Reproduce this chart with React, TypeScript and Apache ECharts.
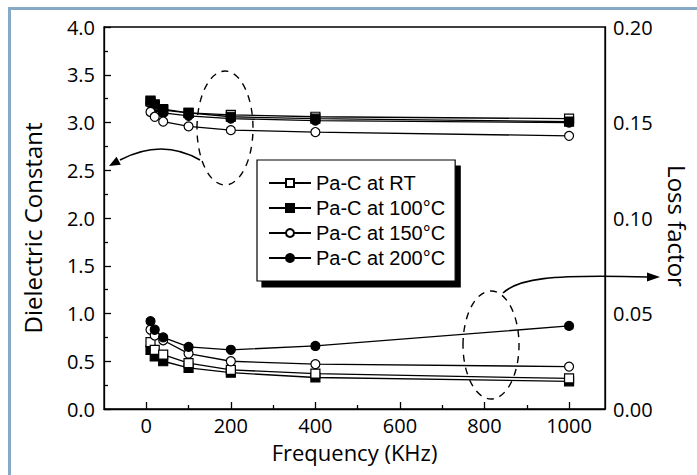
import React, { useEffect, useRef } from "react";
import * as echarts from "echarts";

// ---- data ----
const frequency = [10, 20, 40, 100, 200, 400, 1000];
const seriesNames = ["Pa-C at RT", "Pa-C at 100°C", "Pa-C at 150°C", "Pa-C at 200°C"];

const dielectricRT = [3.22, 3.18, 3.13, 3.1, 3.08, 3.06, 3.04];
const dielectric100 = [3.23, 3.19, 3.14, 3.1, 3.06, 3.04, 3.01];
const dielectric150 = [3.11, 3.06, 3.01, 2.96, 2.92, 2.9, 2.86];
const dielectric200 = [3.2, 3.15, 3.1, 3.07, 3.04, 3.02, 3.0];

const lossRT = [0.035, 0.031, 0.0285, 0.024, 0.0205, 0.0185, 0.016];
const loss100 = [0.031, 0.0275, 0.025, 0.0215, 0.019, 0.0165, 0.0145];
const loss150 = [0.0415, 0.0385, 0.036, 0.029, 0.025, 0.0235, 0.0222];
const loss200 = [0.046, 0.0415, 0.0375, 0.0325, 0.031, 0.033, 0.0435];

const xTickValues = [0, 200, 400, 600, 800, 1000];
const xMinorTickValues = [100, 300, 500, 700, 900];

const pairs = (ys: number[]) => frequency.map((f, i) => [f, ys[i]]);

const markerStyles = [
  { symbol: "rect", fill: "#fff" },
  { symbol: "rect", fill: "#000" },
  { symbol: "circle", fill: "#fff" },
  { symbol: "circle", fill: "#000" },
];

function arrowHead(tipX: number, tipY: number, fromX: number, fromY: number, len: number, half: number) {
  const dx = tipX - fromX;
  const dy = tipY - fromY;
  const d = Math.hypot(dx, dy) || 1;
  const ux = dx / d;
  const uy = dy / d;
  const bx = tipX - ux * len;
  const by = tipY - uy * len;
  return [
    [tipX, tipY],
    [bx - uy * half, by + ux * half],
    [bx + uy * half, by - ux * half],
  ];
}

export default function App() {
  const ref = useRef<HTMLDivElement>(null);

  useEffect(() => {
    if (!ref.current) return;
    const chart = echarts.init(ref.current, null, { renderer: "svg" });

    const tickFont = { fontFamily: "Open Sans", fontSize: 20, color: "#000" };
    const nameFont = { fontFamily: "Open Sans", fontSize: 24, color: "#000" };

    const mkSeries = (idx: number, data: number[], yAxisIndex: number, z: number) => ({
      type: "line",
      name: seriesNames[idx],
      xAxisIndex: 0,
      yAxisIndex,
      data: pairs(data),
      symbol: markerStyles[idx].symbol,
      symbolSize: 9,
      z,
      lineStyle: { color: "#000", width: 1.3 },
      itemStyle: { color: markerStyles[idx].fill, borderColor: "#000", borderWidth: 1.2 },
      emphasis: { disabled: true },
    });

    const upperHead = arrowHead(109, 166, 122, 159, 11, 4.5);
    const lowerHead = arrowHead(660, 277, 646, 277, 13, 4.5);

    chart.setOption({
      animation: false,
      backgroundColor: "#fff",
      grid: { left: 104, top: 27, right: 83, bottom: 66, show: true, borderColor: "#000", borderWidth: 1.3, backgroundColor: "transparent" },
      legend: {
        orient: "vertical",
        left: 257,
        top: 160,
        data: seriesNames,
        selectedMode: false,
        itemWidth: 42,
        itemHeight: 10,
        itemGap: 5,
        padding: [13, 10, 13, 11],
        borderColor: "#000",
        borderWidth: 1.2,
        backgroundColor: "#fff",
        shadowColor: "#000",
        shadowBlur: 0,
        shadowOffsetX: 5,
        shadowOffsetY: 6,
        textStyle: { fontFamily: "Liberation Sans", fontSize: 20, color: "#000" },
      },
      xAxis: [
        {
          type: "value",
          min: -100,
          max: 1085,
          position: "bottom",
          name: "Frequency (KHz)",
          nameLocation: "middle",
          nameGap: 32,
          nameTextStyle: { ...nameFont, fontSize: 22 },
          axisLine: { show: true, onZero: false, lineStyle: { color: "#000", width: 1.3 } },
          axisTick: { show: true, inside: true, length: 7, customValues: xTickValues, lineStyle: { color: "#000", width: 1.3 } },
          axisLabel: { ...tickFont, margin: 6, customValues: xTickValues, formatter: (v: number) => String(v) },
          splitLine: { show: false },
        },
        {
          type: "value",
          min: -100,
          max: 1085,
          position: "bottom",
          axisLine: { show: false, onZero: false },
          axisTick: { show: true, inside: true, length: 4, customValues: xMinorTickValues, lineStyle: { color: "#000", width: 1.3 } },
          axisLabel: { show: false },
          splitLine: { show: false },
        },
      ],
      yAxis: [
        {
          type: "value",
          min: 0,
          max: 4,
          interval: 0.5,
          position: "left",
          name: "Dielectric Constant",
          nameLocation: "middle",
          nameRotate: 90,
          nameGap: 60,
          nameTextStyle: { ...nameFont, padding: [0, 20, 0, 0] },
          axisLine: { show: true, onZero: false, lineStyle: { color: "#000", width: 1.3 } },
          axisTick: { show: true, inside: true, length: 7, lineStyle: { color: "#000", width: 1.3 } },
          minorTick: { show: true, splitNumber: 2, length: 4, lineStyle: { color: "#000", width: 1.3 } },
          axisLabel: { ...tickFont, margin: 9, formatter: (v: number) => v.toFixed(1) },
          splitLine: { show: false },
        },
        {
          type: "value",
          min: 0,
          max: 0.2,
          interval: 0.05,
          position: "right",
          name: "Loss factor",
          nameLocation: "middle",
          nameRotate: -90,
          nameGap: 60,
          nameTextStyle: { ...nameFont, padding: [0, 0, 0, 16] },
          axisLine: { show: true, onZero: false, lineStyle: { color: "#000", width: 1.3 } },
          axisTick: { show: false },
          axisLabel: { ...tickFont, margin: 8, formatter: (v: number) => v.toFixed(2) },
          splitLine: { show: false },
        },
      ],
      series: [
        mkSeries(3, dielectric200, 0, 2),
        mkSeries(0, dielectricRT, 0, 3),
        mkSeries(1, dielectric100, 0, 4),
        mkSeries(2, dielectric150, 0, 5),
        mkSeries(1, loss100, 1, 3),
        mkSeries(0, lossRT, 1, 4),
        mkSeries(2, loss150, 1, 5),
        mkSeries(3, loss200, 1, 6),
      ],
      graphic: [
        {
          type: "rect",
          silent: true,
          z: 100,
          shape: { x: 9.5, y: 8.5, width: 720, height: 500 },
          style: { fill: "none", stroke: "#86a9c6", lineWidth: 3 },
        },
        {
          type: "ellipse",
          silent: true,
          z: 100,
          shape: { cx: 225, cy: 128, rx: 28, ry: 57 },
          style: { fill: "none", stroke: "#000", lineWidth: 1.4, lineDash: [7, 6] },
        },
        {
          type: "ellipse",
          silent: true,
          z: 100,
          shape: { cx: 491, cy: 345, rx: 28, ry: 54 },
          style: { fill: "none", stroke: "#000", lineWidth: 1.4, lineDash: [7, 6] },
        },
        {
          type: "bezierCurve",
          silent: true,
          z: 100,
          shape: { x1: 200, y1: 160, x2: 120, y2: 160, cpx1: 162, cpy1: 138 },
          style: { fill: "none", stroke: "#000", lineWidth: 1.6 },
        },
        {
          type: "polygon",
          silent: true,
          z: 100,
          shape: { points: upperHead },
          style: { fill: "#000" },
        },
        {
          type: "bezierCurve",
          silent: true,
          z: 100,
          shape: { x1: 503, y1: 293, x2: 648, y2: 277, cpx1: 518, cpy1: 279, cpx2: 548, cpy2: 274 },
          style: { fill: "none", stroke: "#000", lineWidth: 1.6 },
        },
        {
          type: "polygon",
          silent: true,
          z: 100,
          shape: { points: lowerHead },
          style: { fill: "#000" },
        },
      ],
    });

    return () => chart.dispose();
  }, []);

  return <div ref={ref} style={{ position: "absolute", left: 0, top: 0, width: 697, height: 475 }} />;
}
